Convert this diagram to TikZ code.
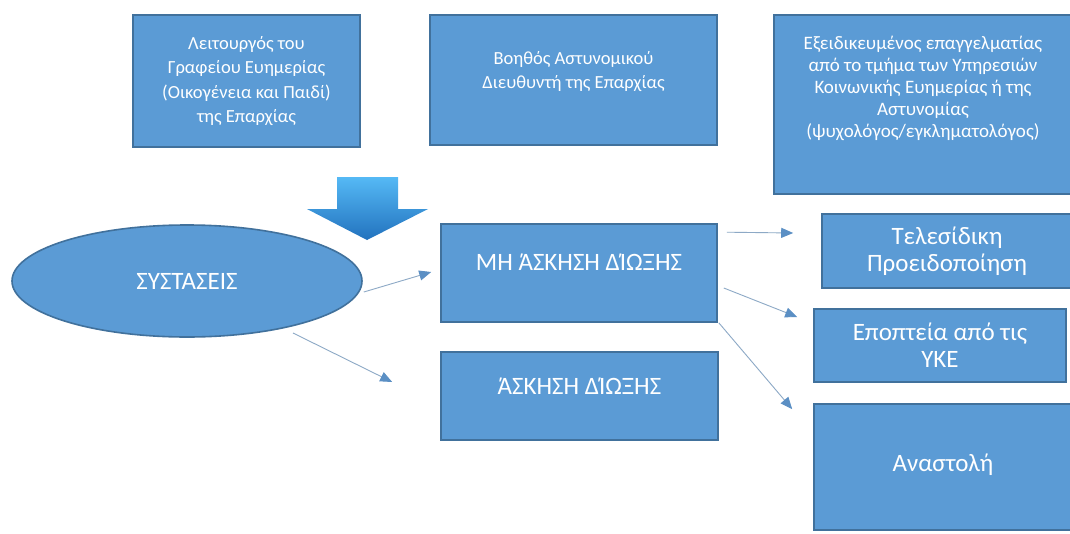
\documentclass[tikz,border=0pt]{standalone}
\usepackage{fontspec}
\setmainfont{Carlito}
\usetikzlibrary{arrows.meta,calc,shapes.geometric}
\definecolor{boxblue}{HTML}{5B9BD5}
\definecolor{boxline}{HTML}{41719C}
\definecolor{connline}{HTML}{8DA9C6}
\definecolor{tipblue}{HTML}{5B8FC4}
\definecolor{arrowtop}{HTML}{55B9F5}
\definecolor{arrowbot}{HTML}{2272BE}
% keep the tonos on capitals (the font drops it inside all-caps words)
\newcommand{\tonA}{Ά\kern0pt}
\newcommand{\tonI}{\kern0ptΊ\kern0pt}

\tikzset{
	box/.style={draw=boxline, line width=1.6pt, fill=boxblue, text=white, align=center, inner sep=0pt},
	topfont/.style={font=\fontsize{18.5}{24.5}\selectfont},
	lowfont/.style={font=\fontsize{25}{27}\selectfont},
	conn/.style={draw=connline, line width=0.9pt, -{Triangle[length=12pt,width=10pt,color=tipblue]}}
}

\begin{document}
\begin{tikzpicture}[x=1pt, y=-1pt]
			%%%%% START %%%%%
			\clip (0, 0) rectangle (1070, 533);
			\fill[white] (0, 0) rectangle (1070, 533);
			
			% top row
			\node[box, topfont, minimum width=227pt, minimum height=132pt] (leit) at (246.5, 81) {Λειτουργός του\\Γραφείου Ευημερίας\\(Οικογένεια και Παιδί)\\της Επαρχίας};
			\node[box, topfont, minimum width=287pt, minimum height=130pt, text depth=20pt] (voith) at (573.5, 80) {Βοηθός Αστυνομικού\\Διευθυντή της Επαρχίας};
			\node[box, font=\fontsize{19}{22}\selectfont, minimum width=298pt, minimum height=179pt, text depth=36pt] (exeid) at (923, 104.5) {Εξειδικευμένος επαγγελματίας\\από το τμήμα των Υπηρεσιών\\Κοινωνικής Ευημερίας ή της\\Αστυνομίας\\(ψυχολόγος/εγκληματολόγος)};
			
			% big arrow
			\shade[top color=arrowtop, bottom color=arrowbot] (337, 177) -- (398, 177) -- (398, 209) -- (428, 209) -- (367, 240) -- (307, 209) -- (337, 209) -- cycle;
			
			% middle
			\node[box, ellipse, lowfont, minimum width=350pt, minimum height=112pt] (syst) at (187, 281) {ΣΥΣΤΑΣΕΙΣ};
			\node[box, lowfont, minimum width=276pt, minimum height=98pt, text depth=22pt] (mh) at (579, 273) {ΜΗ \tonA ΣΚΗΣΗ Δ\tonI ΩΞΗΣ};
			\node[box, lowfont, minimum width=277pt, minimum height=88pt, text depth=20pt] (askisi) at (579.5, 396) {\tonA ΣΚΗΣΗ Δ\tonI ΩΞΗΣ};
			
			% right column
			\node[box, lowfont, minimum width=250pt, minimum height=74pt] (tel) at (947, 251) {Τελεσίδικη\\Προειδοποίηση};
			\node[box, lowfont, minimum width=252pt, minimum height=73pt] (epopt) at (940, 345.5) {Εποπτεία από τις\\ΥΚΕ};
			\node[box, lowfont, minimum width=258pt, minimum height=126pt, text depth=8pt] (anast) at (943, 467) {Αναστολή};
			
			% connectors
			\draw[conn] ($(syst.east)+(1, 11)$) -- ($(mh.west)+(-9, -1)$);
			\draw[conn] ($(syst.center)+(106, 52)$) -- ($(askisi.west)+(-48, -14)$);
			\draw[conn] ($(mh.north east)+(9, 9)$) -- ($(tel.west)+(-28, -18)$);
			\draw[conn] ($(mh.east)+(6, 15)$) -- ($(epopt.west)+(-16, -28.5)$);
			\draw[conn] ($(mh.south east)+(1, 0)$) -- ($(anast.north west)+(-21, 6)$);
			%%%%% END %%%%%
\end{tikzpicture}
\end{document}
